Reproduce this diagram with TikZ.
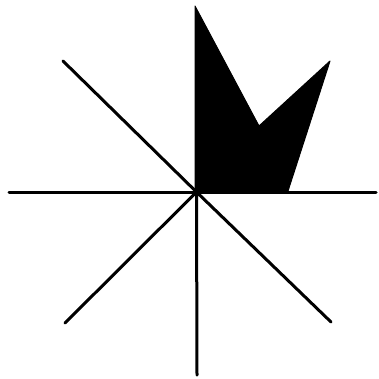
\documentclass[tikz,border=0pt]{standalone}
\begin{document}
\begin{tikzpicture}[x=1pt,y=-1pt,ray/.style={line width=3pt,line cap=round},flag/.style={fill=black,draw=black,line width=1pt,line join=round}]
\useasboundingbox[fill=white] (0,0) rectangle (379,378);
\coordinate (c) at (196.5,192);
\coordinate (l) at (9,192);
\coordinate (r) at (376,192);
\coordinate (ul) at (63,61);
\coordinate (ll) at (65,323);
\coordinate (lr) at (331,322);
\coordinate (b) at (197,375);
\fill[flag] (195,6) -- (259,126) -- (330,61) -- (288,191) -- (195,192) -- cycle;
\draw[ray] (l) -- (r);
\draw[ray] (ul) -- (c);
\draw[ray] (c) -- (ll);
\draw[ray] (c) -- (lr);
\draw[ray] (c) -- (b);
\end{tikzpicture}
\end{document}
